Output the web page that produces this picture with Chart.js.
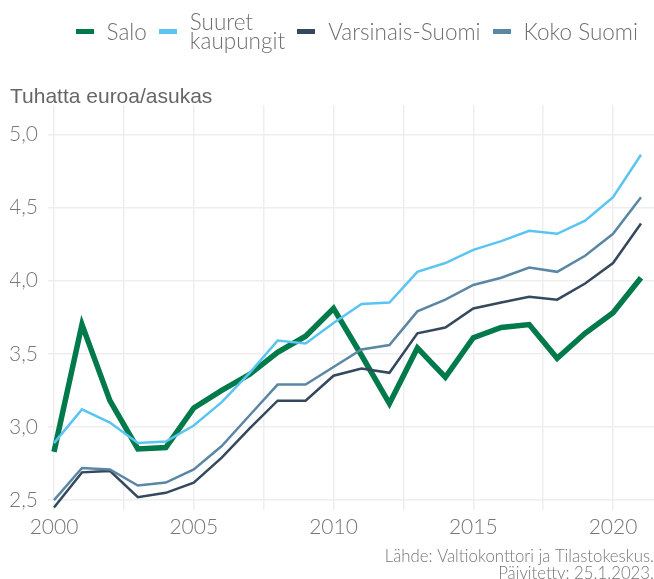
<!DOCTYPE html>
<html>
<head>
<meta charset="utf-8">
<script src="https://cdn.jsdelivr.net/npm/chart.js@4.4.0/dist/chart.umd.min.js"></script>
<style>
  html, body { margin: 0; padding: 0; background: #fff; }
  #wrap { position: relative; width: 654px; height: 579px; }
  #legend {
    position: absolute; top: 12px; right: 16px; height: 38px;
    display: flex; align-items: center;
    font-family: Lato, sans-serif; font-weight: 300; font-size: 22.5px;
    color: #6f6f6f; line-height: 19px;
  }
  .item { display: flex; align-items: center; margin-left: 12px; }
  .box { width: 18px; height: 5px; margin-right: 13px; }
  .txt { white-space: pre-line; }
</style>
</head>
<body>
<div id="wrap">
  <canvas id="chart" width="654" height="579"></canvas>
  <div id="legend"></div>
</div>
<script>
// vuodet
const years = [2000, 2001, 2002, 2003, 2004, 2005, 2006, 2007, 2008, 2009, 2010,
               2011, 2012, 2013, 2014, 2015, 2016, 2017, 2018, 2019, 2020, 2021];

// tuhatta euroa / asukas
const salo       = [2.83, 3.70, 3.18, 2.85, 2.86, 3.13, 3.25, 3.36, 3.51, 3.62, 3.81,
                    3.49, 3.16, 3.54, 3.34, 3.61, 3.68, 3.70, 3.47, 3.64, 3.78, 4.02];
const suuret     = [2.89, 3.12, 3.03, 2.89, 2.90, 3.01, 3.17, 3.37, 3.59, 3.57, 3.71,
                    3.84, 3.85, 4.06, 4.12, 4.21, 4.27, 4.34, 4.32, 4.41, 4.57, 4.86];
const varsinais  = [2.45, 2.69, 2.70, 2.52, 2.55, 2.62, 2.79, 2.99, 3.18, 3.18, 3.35,
                    3.40, 3.37, 3.64, 3.68, 3.81, 3.85, 3.89, 3.87, 3.98, 4.12, 4.39];
const kokoSuomi  = [2.50, 2.72, 2.71, 2.60, 2.62, 2.71, 2.87, 3.08, 3.29, 3.29, 3.41,
                    3.53, 3.56, 3.79, 3.87, 3.97, 4.02, 4.09, 4.06, 4.17, 4.32, 4.57];

const seriesLabels = ['Salo', 'Suuret\nkaupungit', 'Varsinais-Suomi', 'Koko Suomi'];
const xTicks = [2000, 2002.5, 2005, 2007.5, 2010, 2012.5, 2015, 2017.5, 2020];
const yTicks = [2.5, 3.0, 3.5, 4.0, 4.5, 5.0];

const seriesColors = ['#007a4b', '#5bc5f2', '#34495e', '#5b87a5'];
const seriesWidths = [5.5, 2.5, 2.5, 2.5];
const seriesValues = [salo, suuret, varsinais, kokoSuomi];

const tickFont = { family: 'Lato, sans-serif', weight: '300', size: 21 };

const datasets = seriesValues.map((vals, i) => ({
    label: seriesLabels[i].replace('\n', ' '),
    data: vals.map((v, j) => ({ x: years[j], y: v })),
    borderColor: seriesColors[i],
    backgroundColor: seriesColors[i],
    borderWidth: seriesWidths[i],
    pointRadius: 0,
    tension: 0,
    order: seriesValues.length - i // Salo alimmaksi
}));

const chart = new Chart(document.getElementById('chart'), {
    type: 'line',
    data: { datasets: datasets },
    options: {
        responsive: false,
        animation: false,
        layout: { padding: { left: 10, right: 0, top: 87, bottom: 0 } },
        scales: {
            x: {
                type: 'linear',
                min: 1999.785,
                max: 2021.465,
                afterBuildTicks: scale => { scale.ticks = xTicks.map(v => ({ value: v })); },
                afterFit: scale => { scale.height = 35; },
                ticks: {
                    autoSkip: false,
                    maxRotation: 0,
                    padding: 4,
                    color: '#777',
                    font: tickFont,
                    callback: v => (v % 5 === 0 ? String(v) : '')
                },
                grid: { color: '#eeeeee', lineWidth: 1.5, drawTicks: false },
                border: { display: false }
            },
            y: {
                min: 2.43,
                max: 5.2,
                afterBuildTicks: scale => { scale.ticks = yTicks.map(v => ({ value: v })); },
                afterFit: scale => { scale.width = 38; },
                ticks: {
                    padding: 10,
                    color: '#777',
                    font: tickFont,
                    callback: v => v.toFixed(1).replace('.', ',')
                },
                grid: { color: '#eeeeee', lineWidth: 1.5, drawTicks: false },
                border: { display: false }
            }
        },
        plugins: {
            legend: { display: false },
            tooltip: { enabled: false },
            title: {
                display: true,
                text: 'Tuhatta euroa/asukas',
                position: 'top',
                align: 'start',
                weight: 100,
                color: '#666',
                font: { family: '"Liberation Sans", Arial, sans-serif', weight: 'normal', size: 21, lineHeight: 1 },
                padding: { top: 0, bottom: -3 }
            },
            subtitle: {
                display: true,
                position: 'bottom',
                align: 'end',
                text: ['Lähde: Valtiokonttori ja Tilastokeskus.', 'Päivitetty: 25.1.2023.'],
                color: '#777',
                font: { family: 'Lato, sans-serif', weight: '300', size: 16.8, lineHeight: 1 },
                padding: { top: 3, bottom: -3 }
            }
        }
    }
});

// legenda HTML:nä, koska "Suuret kaupungit" on kahdella rivillä
const legendEl = document.getElementById('legend');
chart.data.datasets.forEach((ds, i) => {
    const item = document.createElement('div');
    item.className = 'item';
    const box = document.createElement('span');
    box.className = 'box';
    box.style.background = ds.borderColor;
    const txt = document.createElement('span');
    txt.className = 'txt';
    txt.textContent = seriesLabels[i];
    item.appendChild(box);
    item.appendChild(txt);
    legendEl.appendChild(item);
});
</script>
</body>
</html>
